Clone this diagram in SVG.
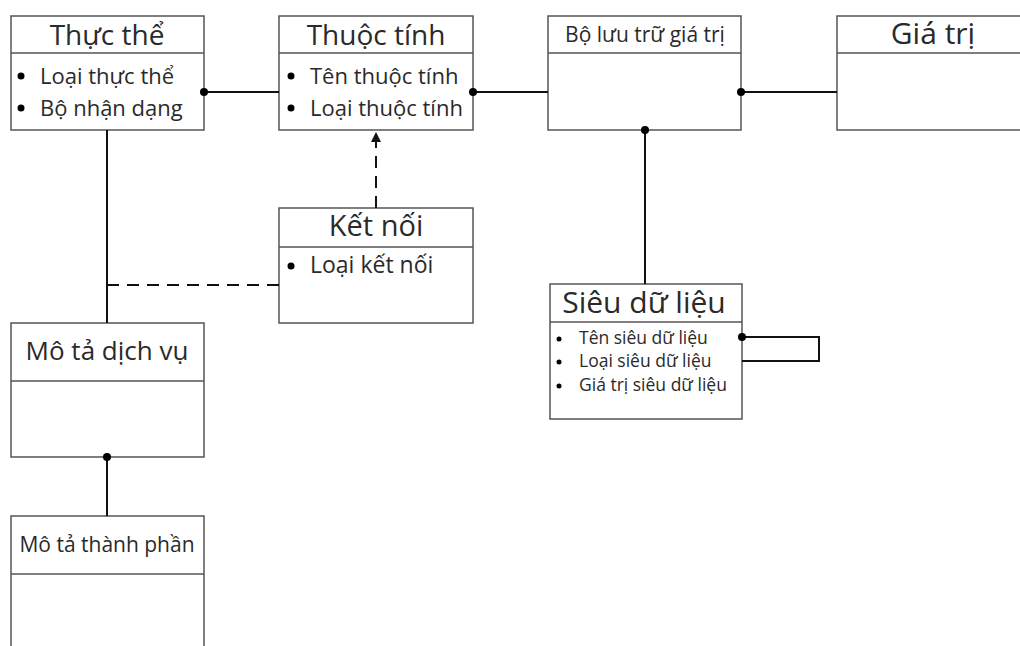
<svg xmlns="http://www.w3.org/2000/svg" width="1020" height="646" viewBox="0 0 1020 646">
<style>
.box{fill:#fff;stroke:#555;stroke-width:1.5}
.div{stroke:#555;stroke-width:1.5}
.t{font-family:"Open Sans","Noto Sans",sans-serif;fill:#2a2a2a}
.c{stroke:#111;stroke-width:2;fill:none}
.d{stroke:#111;stroke-width:2;fill:none;stroke-dasharray:12 8}
.dot{fill:#000}
</style>
<defs>
<marker id="arr" viewBox="0 0 10 10" refX="10" refY="5" markerWidth="5" markerHeight="6" orient="auto"><path d="M0,0L10,5L0,10z" fill="#111"/></marker>
</defs>
<rect width="1020" height="646" fill="#fff"/>
<g id="thuc-the">
<rect class="box" x="11" y="16" width="193" height="114"/>
<line class="div" x1="11" y1="53" x2="204" y2="53"/>
<text class="t" x="107" y="45" font-size="28" text-anchor="middle">Thực thể</text>
<circle cx="21" cy="76" r="3.5" fill="#000"/><text class="t" x="40" y="84" font-size="22">Loại thực thể</text>
<circle cx="21" cy="108" r="3.5" fill="#000"/><text class="t" x="40" y="116" font-size="22">Bộ nhận dạng</text>
</g>
<g id="thuoc-tinh">
<rect class="box" x="279" y="16" width="194" height="114"/>
<line class="div" x1="279" y1="53" x2="473" y2="53"/>
<text class="t" x="376" y="45" font-size="28" text-anchor="middle">Thuộc tính</text>
<circle cx="291" cy="76" r="3.5" fill="#000"/><text class="t" x="310" y="84" font-size="22">Tên thuộc tính</text>
<circle cx="291" cy="108" r="3.5" fill="#000"/><text class="t" x="310" y="116" font-size="22">Loại thuộc tính</text>
</g>
<g id="bo-luu-tru">
<rect class="box" x="548" y="16" width="193" height="114"/>
<line class="div" x1="548" y1="53" x2="741" y2="53"/>
<text class="t" x="645" y="42" font-size="21" text-anchor="middle">Bộ lưu trữ giá trị</text>
</g>
<g id="gia-tri">
<rect class="box" x="837" y="16" width="195" height="114"/>
<line class="div" x1="837" y1="53" x2="1032" y2="53"/>
<text class="t" x="933" y="44" font-size="30" text-anchor="middle">Giá trị</text>
</g>
<g id="ket-noi">
<rect class="box" x="279" y="208" width="194" height="115"/>
<line class="div" x1="279" y1="247" x2="473" y2="247"/>
<text class="t" x="376" y="236" font-size="29" text-anchor="middle">Kết nối</text>
<circle cx="291" cy="266" r="3.5" fill="#000"/><text class="t" x="310" y="273" font-size="23">Loại kết nối</text>
</g>
<g id="sieu-du-lieu">
<rect class="box" x="550" y="284" width="192" height="135"/>
<line class="div" x1="550" y1="322" x2="742" y2="322"/>
<text class="t" x="644" y="313" font-size="30" text-anchor="middle">Siêu dữ liệu</text>
<circle cx="559" cy="339" r="2.5" fill="#000"/><text class="t" x="579" y="344" font-size="17.5">Tên siêu dữ liệu</text>
<circle cx="559" cy="362" r="2.5" fill="#000"/><text class="t" x="579" y="367" font-size="17.5">Loại siêu dữ liệu</text>
<circle cx="559" cy="386" r="2.5" fill="#000"/><text class="t" x="579" y="391" font-size="17.5">Giá trị siêu dữ liệu</text>
</g>
<g id="mo-ta-dich-vu">
<rect class="box" x="11" y="323" width="193" height="134"/>
<line class="div" x1="11" y1="381" x2="204" y2="381"/>
<text class="t" x="107" y="360" font-size="26" text-anchor="middle">Mô tả dịch vụ</text>
</g>
<g id="mo-ta-thanh-phan">
<rect class="box" x="11" y="516" width="193" height="140"/>
<line class="div" x1="11" y1="574" x2="204" y2="574"/>
<text class="t" x="107" y="552" font-size="21" text-anchor="middle">Mô tả thành phần</text>
</g>
<g id="connectors">
<line class="c" x1="204" y1="92" x2="279" y2="92"/>
<circle class="dot" cx="204" cy="92" r="4"/>
<line class="c" x1="473" y1="92" x2="548" y2="92"/>
<circle class="dot" cx="473" cy="92" r="4"/>
<line class="c" x1="741" y1="92" x2="837" y2="92"/>
<circle class="dot" cx="741" cy="92" r="4"/>
<line class="c" x1="645" y1="130" x2="645" y2="284"/>
<circle class="dot" cx="645" cy="130" r="4"/>
<polyline class="c" points="742,337 819,337 819,361 742,361"/>
<circle class="dot" cx="742" cy="337" r="4"/>
<line class="c" x1="107" y1="130" x2="107" y2="323"/>
<line class="d" x1="107" y1="285" x2="279" y2="285"/>
<line class="d" x1="376" y1="208" x2="376" y2="132" marker-end="url(#arr)"/>
<line class="c" x1="107" y1="457" x2="107" y2="516"/>
<circle class="dot" cx="107" cy="457" r="4"/>
</g>
</svg>
